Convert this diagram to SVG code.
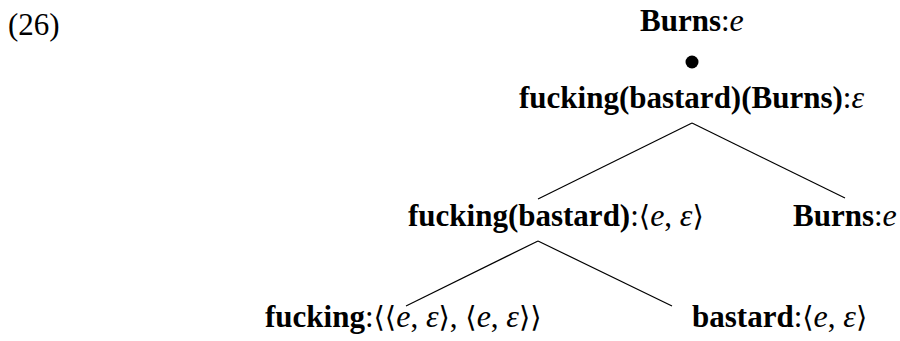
<svg xmlns="http://www.w3.org/2000/svg" width="900" height="341" viewBox="0 0 900 341">
<style>
text { font-family: "Liberation Serif", "DejaVu Serif", serif; font-size: 31px; fill: #000; }
.b { font-weight: bold; }
.i { font-style: italic; font-size: 32px; }
.br { font-family: "DejaVu Serif", "Liberation Serif", serif; font-size: 29px; }
.edge { stroke: #000; stroke-width: 1.2; fill: none; }
</style>
<rect width="900" height="341" fill="#fff"/>
<text x="8" y="35">(26)</text>
<g id="root">
<text x="640" y="31"><tspan class="b">Burns</tspan>:<tspan class="i">e</tspan></text>
<circle cx="692" cy="62" r="6.5" fill="#000"/>
<text x="519" y="108"><tspan class="b">fucking(bastard)(Burns)</tspan>:<tspan class="i">ε</tspan></text>
</g>
<g id="mid-left">
<text x="408" y="226"><tspan class="b">fucking(bastard)</tspan>:<tspan class="br">⟨</tspan><tspan class="i">e</tspan>, <tspan class="i">ε</tspan><tspan class="br">⟩</tspan></text>
</g>
<g id="mid-right">
<text x="793" y="226"><tspan class="b">Burns</tspan>:<tspan class="i">e</tspan></text>
</g>
<g id="bottom-left">
<text x="265" y="327"><tspan class="b">fucking</tspan>:<tspan class="br">⟨⟨</tspan><tspan class="i">e</tspan>, <tspan class="i">ε</tspan><tspan class="br">⟩</tspan>, <tspan class="br">⟨</tspan><tspan class="i">e</tspan>, <tspan class="i">ε</tspan><tspan class="br">⟩⟩</tspan></text>
</g>
<g id="bottom-right">
<text x="692" y="327"><tspan class="b">bastard</tspan>:<tspan class="br">⟨</tspan><tspan class="i">e</tspan>, <tspan class="i">ε</tspan><tspan class="br">⟩</tspan></text>
</g>
<g id="connectors">
<line class="edge" x1="692" y1="123" x2="538" y2="199"/>
<line class="edge" x1="692" y1="123" x2="845" y2="198"/>
<line class="edge" x1="538" y1="241" x2="406" y2="306"/>
<line class="edge" x1="538" y1="241" x2="672" y2="306"/>
</g>
</svg>
